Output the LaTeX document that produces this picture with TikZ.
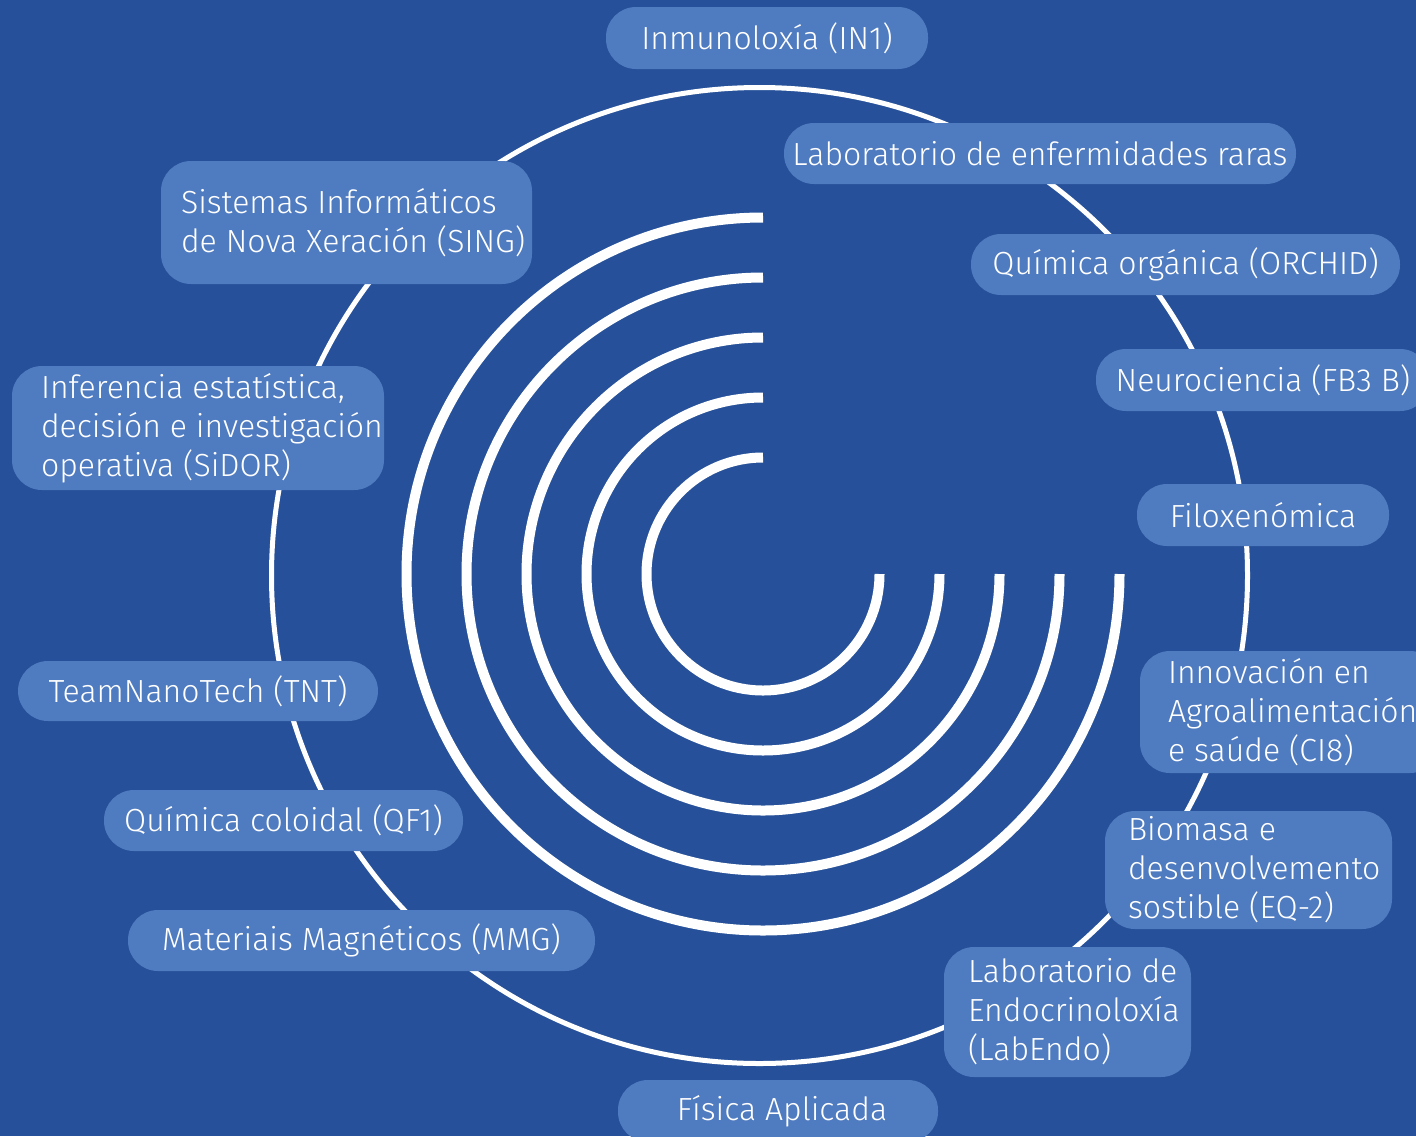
\documentclass[tikz,border=0pt]{standalone}
\usepackage{fontspec}
\setmainfont{Fira Sans Light}
\definecolor{bgc}{HTML}{26519A}
\definecolor{boxc}{HTML}{4F7BC0}
\begin{document}
\begin{tikzpicture}[x=1pt,y=-1pt,
  lbl/.style={fill=boxc, rounded corners=30pt, text=white, inner sep=0pt,
    font=\fontsize{32}{39}\selectfont, align=center},
  txt/.style={text=white, inner sep=0pt, font=\fontsize{32}{39}\selectfont, align=left, anchor=west},
  ring/.style={draw=white, line width=10pt},
  orbit/.style={draw=white, line width=5pt}]
\path[use as bounding box] (0,0) rectangle (1416,1136);
\clip (0,0) rectangle (1416,1136);
\fill[bgc] (0,0) rectangle (1416,1136);
% outer orbit
\coordinate (oc) at (759.5,575.5);
\draw[orbit] (oc) circle[radius=488pt];
% inner arcs
\coordinate (c) at (763,574);
\foreach \r in {116.5,176.5,236.5,296.5,356.5}{
  \draw[ring] (c) ++(0,-\r) arc[start angle=90, end angle=360, radius=\r pt];
}
% single-line labels
\node[lbl, minimum width=322pt, minimum height=62pt] (in1) at (767,38) {Inmunoloxía (IN1)};
\node[lbl, minimum width=512pt, minimum height=61pt] (raras) at (1040,153.5) {Laboratorio de enfermidades raras};
\node[lbl, minimum width=429pt, minimum height=61pt] (orchid) at (1185.5,264.5) {Química orgánica (ORCHID)};
\node[lbl, minimum width=334pt, minimum height=62pt] (fb3b) at (1263,380) {Neurociencia (FB3 B)};
\node[lbl, minimum width=252pt, minimum height=62pt] (filo) at (1263,515) {Filoxenómica};
\node[lbl, minimum width=360pt, minimum height=60pt] (tnt) at (198,691) {TeamNanoTech (TNT)};
\node[lbl, minimum width=359pt, minimum height=61pt] (qf1) at (283.5,820.5) {Química coloidal (QF1)};
\node[lbl, minimum width=467pt, minimum height=61pt] (mmg) at (361.5,940.5) {Materiais Magnéticos (MMG)};
\node[lbl, minimum width=320pt, minimum height=62pt] (fisica) at (778,1111) {\hspace*{8pt}Física Aplicada};
% multi-line labels
\node[lbl, minimum width=371pt, minimum height=123pt] (sing) at (346.5,222.5) {};
\node[txt] (singt) at ([xshift=20pt]sing.west) {Sistemas Informáticos\\de Nova Xeración (SING)};
\node[lbl, minimum width=372pt, minimum height=124pt] (sidor) at (198,428) {};
\node[txt] (sidort) at ([xshift=29pt]sidor.west) {Inferencia estatística,\\decisión e investigación\\operativa (SiDOR)};
\node[lbl, minimum width=300pt, minimum height=122pt] (ci8) at (1290,712) {};
\node[txt] (ci8t) at ([xshift=28pt]ci8.west) {Innovación en\\Agroalimentación\\e saúde (CI8)};
\node[lbl, minimum width=287pt, minimum height=118pt] (eq2) at (1248.5,870) {};
\node[txt] (eq2t) at ([xshift=23pt]eq2.west) {Biomasa e\\desenvolvemento\\sostible (EQ-2)};
\node[lbl, minimum width=247pt, minimum height=130pt] (labendo) at (1067.5,1012) {};
\node[txt] (labendot) at ([xshift=24pt]labendo.west) {Laboratorio de\\Endocrinoloxía\\(LabEndo)};
\end{tikzpicture}
\end{document}
